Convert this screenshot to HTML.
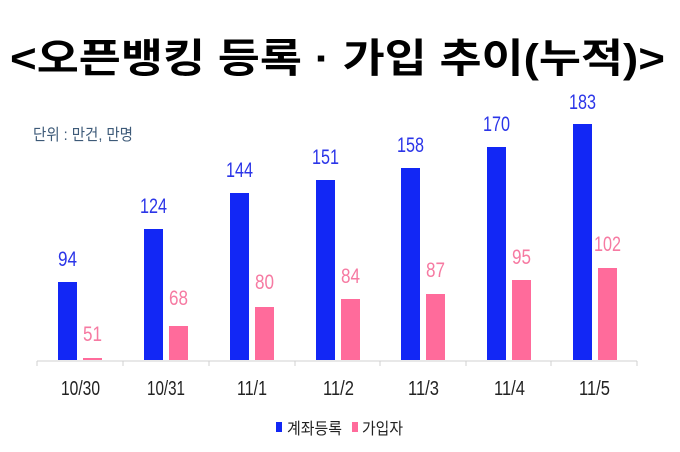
<!DOCTYPE html>
<html><head><meta charset="utf-8"><style>
html,body{margin:0;padding:0;background:#fff;}
svg{display:block;}
text{font-family:"Liberation Sans","Noto Sans CJK KR",sans-serif;}
</style></head><body>
<svg width="680" height="452" viewBox="0 0 680 452" xmlns="http://www.w3.org/2000/svg">
<text x="10" y="72" font-size="40" font-weight="bold" fill="#000" textLength="655" lengthAdjust="spacingAndGlyphs">&lt;오픈뱅킹 등록 · 가입 추이(누적)&gt;</text>
<text x="33" y="140" font-size="16" fill="#3d5a78" textLength="100" lengthAdjust="spacingAndGlyphs">단위 : 만건, 만명</text>
<line x1="37" y1="361" x2="637" y2="361" stroke="#d0d0d0" stroke-width="1"/>
<g stroke="#d0d0d0" stroke-width="1">
<line x1="37" y1="361" x2="37" y2="366"/><line x1="123" y1="361" x2="123" y2="366"/><line x1="209" y1="361" x2="209" y2="366"/><line x1="295" y1="361" x2="295" y2="366"/><line x1="380" y1="361" x2="380" y2="366"/><line x1="466" y1="361" x2="466" y2="366"/><line x1="551" y1="361" x2="551" y2="366"/><line x1="637" y1="361" x2="637" y2="366"/>
</g>
<rect x="58" y="282" width="19" height="78" fill="#1227f5"/>
<rect x="83" y="358" width="19" height="2" fill="#ff6b9b"/>
<rect x="144" y="229" width="19" height="131" fill="#1227f5"/>
<rect x="169" y="326" width="19" height="34" fill="#ff6b9b"/>
<rect x="230" y="193" width="19" height="167" fill="#1227f5"/>
<rect x="255" y="307" width="19" height="53" fill="#ff6b9b"/>
<rect x="316" y="180" width="19" height="180" fill="#1227f5"/>
<rect x="341" y="299" width="19" height="61" fill="#ff6b9b"/>
<rect x="401" y="168" width="19" height="192" fill="#1227f5"/>
<rect x="426" y="294" width="19" height="66" fill="#ff6b9b"/>
<rect x="487" y="147" width="19" height="213" fill="#1227f5"/>
<rect x="512" y="280" width="19" height="80" fill="#ff6b9b"/>
<rect x="573" y="124" width="19" height="236" fill="#1227f5"/>
<rect x="598" y="268" width="19" height="92" fill="#ff6b9b"/>
<g font-size="21" lengthAdjust="spacingAndGlyphs">
<g fill="#2b35e8">
<text x="58" y="266" textLength="19" lengthAdjust="spacingAndGlyphs">94</text>
<text x="140" y="213" textLength="27" lengthAdjust="spacingAndGlyphs">124</text>
<text x="226" y="177" textLength="27" lengthAdjust="spacingAndGlyphs">144</text>
<text x="312" y="164" textLength="27" lengthAdjust="spacingAndGlyphs">151</text>
<text x="397" y="152" textLength="27" lengthAdjust="spacingAndGlyphs">158</text>
<text x="483" y="131" textLength="27" lengthAdjust="spacingAndGlyphs">170</text>
<text x="569" y="109" textLength="27" lengthAdjust="spacingAndGlyphs">183</text>
</g>
<g fill="#f67aa2">
<text x="83" y="341" textLength="19" lengthAdjust="spacingAndGlyphs">51</text>
<text x="169" y="305" textLength="19" lengthAdjust="spacingAndGlyphs">68</text>
<text x="255" y="289" textLength="19" lengthAdjust="spacingAndGlyphs">80</text>
<text x="341" y="283" textLength="19" lengthAdjust="spacingAndGlyphs">84</text>
<text x="426" y="277" textLength="19" lengthAdjust="spacingAndGlyphs">87</text>
<text x="512" y="264" textLength="19" lengthAdjust="spacingAndGlyphs">95</text>
<text x="594" y="251" textLength="27" lengthAdjust="spacingAndGlyphs">102</text>
</g>
<g fill="#222" font-size="20">
<text x="61" y="395" textLength="39" lengthAdjust="spacingAndGlyphs">10/30</text>
<text x="147" y="395" textLength="38" lengthAdjust="spacingAndGlyphs">10/31</text>
<text x="237" y="395" textLength="30" lengthAdjust="spacingAndGlyphs">11/1</text>
<text x="323" y="395" textLength="31" lengthAdjust="spacingAndGlyphs">11/2</text>
<text x="408" y="395" textLength="31" lengthAdjust="spacingAndGlyphs">11/3</text>
<text x="494" y="395" textLength="31" lengthAdjust="spacingAndGlyphs">11/4</text>
<text x="579" y="395" textLength="31" lengthAdjust="spacingAndGlyphs">11/5</text>
</g>
</g>
<rect x="276" y="422" width="6" height="10" fill="#1227f5"/>
<text x="287" y="434" font-size="16" fill="#222" textLength="55" lengthAdjust="spacingAndGlyphs">계좌등록</text>
<rect x="352" y="422" width="6" height="10" fill="#ff6b9b"/>
<text x="362" y="434" font-size="16" fill="#222" textLength="41" lengthAdjust="spacingAndGlyphs">가입자</text>
</svg>
</body></html>
